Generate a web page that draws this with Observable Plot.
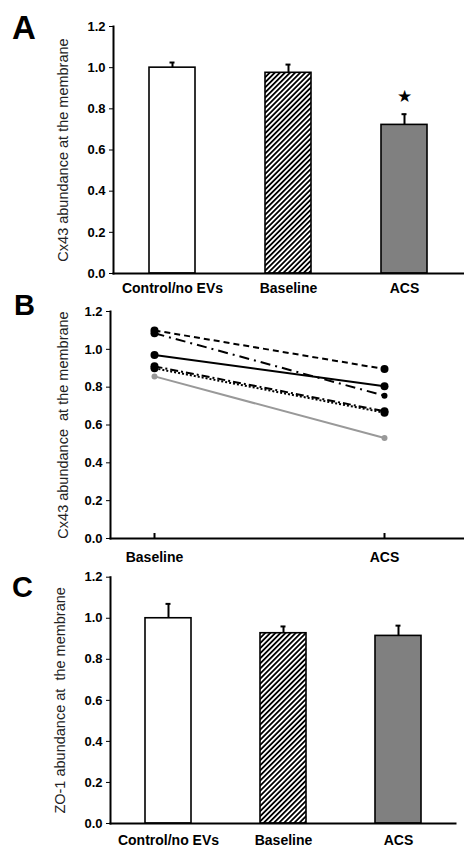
<!DOCTYPE html>
<html><head><meta charset="utf-8">
<script src="https://cdn.jsdelivr.net/npm/d3@7"></script>
<script src="https://cdn.jsdelivr.net/npm/@observablehq/plot@0.6"></script>
<style>
body{margin:0;background:#fff;}
#wrap{position:relative;width:464px;height:848px;overflow:hidden;background:#fff;}
.panel{position:absolute;left:0;}
#letters{position:absolute;left:0;top:0;pointer-events:none;}
</style></head><body>
<div id="wrap"></div>
<script>
// ---- data ----
const groups = ["Control/no EVs", "Baseline", "ACS"];
const cx43Mean = [1.0, 0.975, 0.722];
const cx43Err = [0.025, 0.04, 0.052];
const cx43Sig = ["", "", "★"];

const pairTimes = ["Baseline", "ACS"];
const pairBaseline = [1.10, 1.085, 0.97, 0.91, 0.90, 0.857];
const pairACS = [0.896, 0.755, 0.805, 0.673, 0.665, 0.531];

const zo1Mean = [1.0, 0.927, 0.914];
const zo1Err = [0.07, 0.033, 0.05];
const zo1Sig = ["", "", ""];

const yTicks = [0, 0.2, 0.4, 0.6, 0.8, 1.0, 1.2];

// ---- styles ----
const FONT = '"Liberation Sans", Arial, Helvetica, sans-serif';
const lineStyles = [
  {stroke: "#999", dash: null, r0: 3, r1: 3},
  {stroke: "black", dash: "6,4", r0: 4, r1: 4},
  {stroke: "black", dash: "10,5,2,5", r0: 4, r1: 3},
  {stroke: "black", dash: null, r0: 4, r1: 4},
  {stroke: "black", dash: "8,3,2,3", r0: 4, r1: 4},
  {stroke: "black", dash: "2,2", r0: 4, r1: 4}
];
// map style index -> series index
const styleSeries = [5, 0, 1, 2, 3, 4];

function hatchDefs(id) {
  return () => {
    const ns = "http://www.w3.org/2000/svg";
    const defs = document.createElementNS(ns, "defs");
    defs.innerHTML = `<pattern id="${id}" patternUnits="userSpaceOnUse" width="3.6" height="3.6" patternTransform="rotate(45)"><rect width="3.6" height="3.6" fill="white"/><line x1="0.9" y1="-1" x2="0.9" y2="5" stroke="black" stroke-width="1.8"/></pattern>`;
    return defs;
  };
}

const wrap = document.getElementById("wrap");

function place(node, top) {
  node.classList.add("panel");
  node.style.top = top + "px";
  wrap.appendChild(node);
}

function yTitle(label, dx) {
  return Plot.text([label], {frameAnchor: "left", textAnchor: "middle", lineAnchor: "middle", dx, rotate: -90, fontSize: 14.5, fontWeight: "normal", fill: "#222"});
}

function barPanel({height, mt, mb, ml, mr, means, errs, sig, ylabel, hatchId, xPad}) {
  const data = groups.map((g, i) => ({g, v: means[i], e: errs[i], s: sig[i]}));
  const fills = ["white", `url(#${hatchId})`, "#808080"];
  return Plot.plot({
    width: 464, height,
    marginTop: mt, marginBottom: mb, marginLeft: ml, marginRight: mr,
    style: {fontFamily: FONT, fontWeight: "bold", color: "black", background: "transparent", overflow: "visible"},
    x: {domain: groups, paddingInner: 0.6, paddingOuter: 0.3, label: null},
    y: {domain: [0, 1.2], label: null},
    marks: [
      hatchDefs(hatchId),
      Plot.ruleX(data, {x: "g", y1: "v", y2: d => d.v + d.e, stroke: "black", strokeWidth: 2}),
      Plot.tickY(data, {x: "g", y: d => d.v + d.e, stroke: "black", strokeWidth: 2, insetLeft: 20.5, insetRight: 20.5}),
      ...groups.map((g, i) => Plot.barY(data.filter(d => d.g === g), {x: "g", y: "v", fill: fills[i], stroke: "black", strokeWidth: 1.6})),
      Plot.text(data, {x: "g", y: d => d.v + d.e, text: "s", dy: -18, fontSize: 17, fill: "black", fontFamily: "DejaVu Sans"}),
      Plot.frame({anchor: "left", stroke: "black", strokeWidth: 2}),
      Plot.frame({anchor: "bottom", stroke: "black", strokeWidth: 2}),
      Plot.axisY({ticks: yTicks, tickFormat: d3.format(".1f"), tickSize: 4, tickPadding: 4, fontSize: 13, label: null}),
      Plot.axisX({tickSize: 0, tickPadding: xPad, fontSize: 14, label: null}),
      yTitle(ylabel, -50)
    ]
  });
}

// Panel A
place(barPanel({height: 300, mt: 26, mb: 27, ml: 113, mr: 1, means: cx43Mean, errs: cx43Err, sig: cx43Sig,
  ylabel: "Cx43 abundance at the membrane", hatchId: "hatchA", xPad: 10}), 0);

// Panel B
const pairData = pairBaseline.flatMap((b, i) => [
  {id: i, t: pairTimes[0], v: b},
  {id: i, t: pairTimes[1], v: pairACS[i]}
]);
const bMarks = [];
lineStyles.forEach((st, k) => {
  const id = styleSeries[k];
  const sub = pairData.filter(d => d.id === id);
  bMarks.push(Plot.line(sub, {x: "t", y: "v", stroke: st.stroke, strokeWidth: 2, strokeDasharray: st.dash, strokeLinecap: "butt"}));
});
lineStyles.forEach((st, k) => {
  const id = styleSeries[k];
  const sub = pairData.filter(d => d.id === id);
  bMarks.push(Plot.dot(sub, {x: "t", y: "v", fill: st.stroke, stroke: "none", r: d => d.t === pairTimes[0] ? st.r0 : st.r1}));
});
const plotB = Plot.plot({
  width: 464, height: 266,
  marginTop: 11, marginBottom: 28, marginLeft: 110, marginRight: 1,
  style: {fontFamily: FONT, fontWeight: "bold", color: "black", background: "transparent", overflow: "visible"},
  x: {type: "point", domain: pairTimes, padding: 0, insetLeft: 44, insetRight: 79, label: null},
  y: {domain: [0, 1.2], label: null},
  r: {type: "identity"},
  marks: [
    ...bMarks,
    Plot.frame({anchor: "left", stroke: "black", strokeWidth: 2}),
    Plot.frame({anchor: "bottom", stroke: "black", strokeWidth: 2}),
    Plot.axisY({ticks: yTicks, tickFormat: d3.format(".1f"), tickSize: 4, tickPadding: 4, fontSize: 13, label: null}),
    Plot.axisX({tickSize: -5, tickPadding: 19, fontSize: 14, strokeWidth: 2, label: null}),
    yTitle("Cx43 abundance  at the membrane", -47)
  ]
});
place(plotB, 300);

// Panel C
place(barPanel({height: 282, mt: 10.7, mb: 25, ml: 110, mr: 9, means: zo1Mean, errs: zo1Err, sig: zo1Sig,
  ylabel: "ZO-1 abundance at  the membrane", hatchId: "hatchC", xPad: 12}), 566);

// Panel letters
const ns = "http://www.w3.org/2000/svg";
const lsvg = document.createElementNS(ns, "svg");
lsvg.setAttribute("id", "letters");
lsvg.setAttribute("width", 464);
lsvg.setAttribute("height", 848);
[["A", 12, 39, 33], ["B", 14, 315, 29], ["C", 12, 597, 29]].forEach(([t, x, y, s]) => {
  const el = document.createElementNS(ns, "text");
  el.setAttribute("x", x); el.setAttribute("y", y);
  el.setAttribute("font-family", FONT);
  el.setAttribute("font-weight", "bold");
  el.setAttribute("font-size", s);
  el.textContent = t;
  lsvg.appendChild(el);
});
wrap.appendChild(lsvg);
</script>
</body></html>
